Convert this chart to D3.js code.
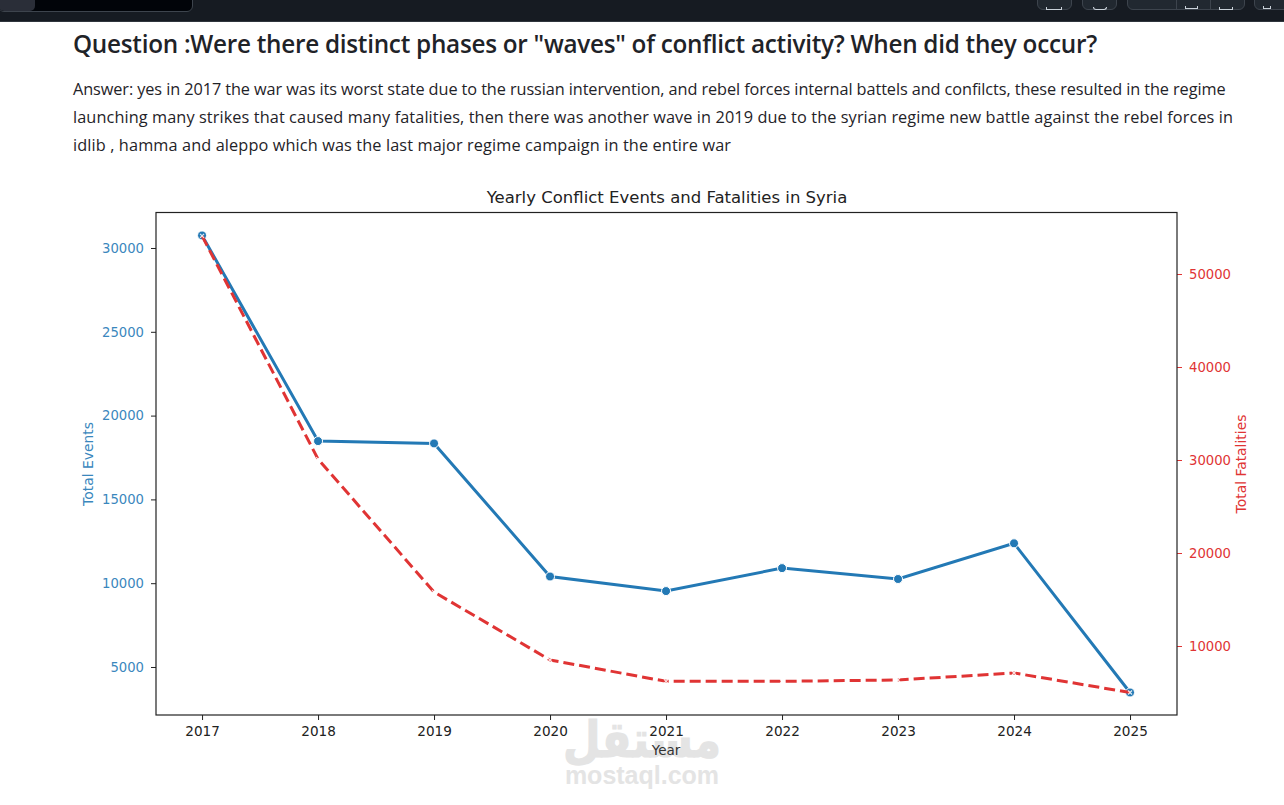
<!DOCTYPE html>
<html>
<head>
<meta charset="utf-8">
<script src="https://cdn.jsdelivr.net/npm/d3@7"></script>
<style>
html, body { margin: 0; padding: 0; background: #fff; overflow: hidden; }
#topbar { position: absolute; left: 0; top: 0; width: 1284px; height: 22px; background: #161b22; border-bottom: 1px solid #30363d; box-sizing: border-box; overflow: hidden; }
#tab { position: absolute; left: -2px; top: -6px; width: 193px; height: 16px; background: #010409; border: 1px solid #3d444d; border-radius: 6px; overflow: hidden; }
#thumb { position: absolute; left: 0; top: 0; width: 36px; height: 16px; background: #2a2e38; border-radius: 0 0 5px 0; }
.btn { position: absolute; top: -8px; height: 18px; border: 1px solid #3d444d; border-radius: 6px; box-sizing: border-box; background: #212830; }
.sep { position: absolute; top: 0; bottom: 0; width: 1px; background: #3d444d; }
.glyph { position: absolute; top: 0; height: 3px; border: 1px solid #c9d1d9; border-top: 0; box-sizing: border-box; }
h2 { position: absolute; left: 73px; top: 27px; margin: 0; font: 600 24.3px "Open Sans", "Noto Sans", sans-serif; letter-spacing: -0.27px; color: #1f2328; white-space: nowrap; }
#answer { position: absolute; left: 73px; top: 75px; margin: 0; font: 400 16.3px/28px "Open Sans", "Noto Sans", sans-serif; color: #1f2328; white-space: nowrap; }
svg { position: absolute; left: 0; top: 0; }
</style>
</head>
<body>
<div id="topbar">
  <div id="tab"><div id="thumb"></div></div>
  <div class="btn" style="left:1037px;width:35px"><div class="glyph" style="left:8px;top:14px;width:16px"></div></div>
  <div class="btn" style="left:1082px;width:35px"><div class="glyph" style="left:10px;top:14px;width:14px;border-radius:0 0 6px 6px"></div></div>
  <div class="btn" style="left:1127px;width:118px">
    <div class="sep" style="left:48px"></div>
    <div class="sep" style="left:82px"></div>
    <div class="glyph" style="left:57px;top:13px;width:13px"></div>
    <div class="glyph" style="left:91px;top:14px;width:14px"></div>
  </div>
  <div class="btn" style="left:1254px;width:40px"><div class="glyph" style="left:8px;top:13px;width:8px"></div></div>
</div>
<h2>Question :Were there distinct phases or "waves" of conflict activity? When did they occur?</h2>
<div id="answer">
  <div style="letter-spacing:-0.09px">Answer: yes in 2017 the war was its worst state due to the russian intervention, and rebel forces internal battels and confilcts, these resulted in the regime</div>
  <div style="letter-spacing:0.095px">launching many strikes that caused many fatalities, then there was another wave in 2019 due to the syrian regime new battle against the rebel forces in</div>
  <div style="letter-spacing:0.117px">idlib , hamma and aleppo which was the last major regime campaign in the entire war</div>
</div>
<div id="chart"></div>
<script>
// Yearly data
const years = [2017, 2018, 2019, 2020, 2021, 2022, 2023, 2024, 2025];
const events = [30750, 18480, 18340, 10400, 9530, 10900, 10250, 12380, 3480];
const fatalities = [54100, 30100, 15800, 8500, 6200, 6200, 6350, 7100, 5000];
const eventTicks = [5000, 10000, 15000, 20000, 25000, 30000];
const fatalityTicks = [10000, 20000, 30000, 40000, 50000];

const blue = '#2379b5';
const red = '#e03434';
const font = '"DejaVu Sans", sans-serif';

const svg = d3.select('#chart').append('svg')
    .attr('width', 1284)
    .attr('height', 805);

const plot = { left: 156, right: 1177, top: 212.5, bottom: 715 };

const x = d3.scaleLinear().domain([2016.603, 2025.405]).range([plot.left, plot.right]);
const yLeft = d3.scaleLinear().domain([2136, 32118]).range([plot.bottom, plot.top]);
const yRight = d3.scaleLinear().domain([2581, 56613]).range([plot.bottom, plot.top]);

// Watermark sits behind the axis labels
const mark = svg.append('g').attr('fill', '#e4e4e4').attr('text-anchor', 'middle');
mark.append('text')
    .attr('transform', 'translate(642,757) scale(0.865,1)')
    .attr('stroke', '#e4e4e4')
    .attr('stroke-width', 1.2)
    .style('font', 'bold 50px "DejaVu Sans", sans-serif')
    .text('مستقل');
mark.append('text')
    .attr('x', 642).attr('y', 784)
    .style('font', 'bold 25px "Liberation Sans", sans-serif')
    .text('mostaql.com');

// Axes
const xAxis = svg.append('g')
    .attr('transform', `translate(0,${plot.bottom})`)
    .call(d3.axisBottom(x).tickValues(years).tickFormat(d3.format('d')).tickSize(5).tickPadding(6));
const leftAxis = svg.append('g')
    .attr('transform', `translate(${plot.left},0)`)
    .call(d3.axisLeft(yLeft).tickValues(eventTicks).tickFormat(d3.format('d')).tickSize(5).tickPadding(7));
const rightAxis = svg.append('g')
    .attr('transform', `translate(${plot.right},0)`)
    .call(d3.axisRight(yRight).tickValues(fatalityTicks).tickFormat(d3.format('d')).tickSize(5).tickPadding(7));

[xAxis, leftAxis, rightAxis].forEach(a => a.selectAll('.domain').remove());
xAxis.selectAll('text').style('font', `13.6px ${font}`);
leftAxis.selectAll('text').style('font', `13.2px ${font}`);
rightAxis.selectAll('text').style('font', `13.2px ${font}`);
xAxis.selectAll('line').attr('stroke', '#222');
xAxis.selectAll('text').attr('fill', '#222');
leftAxis.selectAll('line').attr('stroke', '#222');
leftAxis.selectAll('text').attr('fill', '#3a87bd');
rightAxis.selectAll('line').attr('stroke', red);
rightAxis.selectAll('text').attr('fill', red);

// Frame
svg.append('rect')
    .attr('x', plot.left).attr('y', plot.top)
    .attr('width', plot.right - plot.left).attr('height', plot.bottom - plot.top)
    .attr('fill', 'none').attr('stroke', '#222').attr('stroke-width', 1.2);

// Events line
svg.append('path')
    .datum(events)
    .attr('fill', 'none')
    .attr('stroke', blue)
    .attr('stroke-width', 3)
    .attr('d', d3.line().x((d, i) => x(years[i])).y(d => yLeft(d)));

svg.selectAll('.event-dot')
    .data(events)
    .join('circle')
    .attr('class', 'event-dot')
    .attr('cx', (d, i) => x(years[i]))
    .attr('cy', d => yLeft(d))
    .attr('r', 4.5)
    .attr('fill', blue)
    .attr('stroke', '#fff')
    .attr('stroke-width', 1);

// Fatalities line
svg.append('path')
    .datum(fatalities)
    .attr('fill', 'none')
    .attr('stroke', red)
    .attr('stroke-width', 3)
    .attr('stroke-dasharray', '11,5')
    .attr('d', d3.line().x((d, i) => x(years[i])).y(d => yRight(d)));

// Small x markers, white edged, on the fatalities line
svg.selectAll('.fatal-dot')
    .data(fatalities)
    .join('path')
    .attr('class', 'fatal-dot')
    .attr('transform', (d, i) => `translate(${x(years[i])},${yRight(d)})`)
    .attr('d', 'M-2,-2L2,2M-2,2L2,-2')
    .attr('stroke', '#fff')
    .attr('stroke-width', 1.2)
    .attr('opacity', 0.85);

// Titles
svg.append('text')
    .attr('x', 667).attr('y', 203)
    .attr('text-anchor', 'middle')
    .attr('fill', '#222')
    .style('font', `16.5px ${font}`)
    .text('Yearly Conflict Events and Fatalities in Syria');
svg.append('text')
    .attr('x', 666).attr('y', 755)
    .attr('text-anchor', 'middle')
    .attr('fill', '#333')
    .style('font', `13.5px ${font}`)
    .text('Year');
svg.append('text')
    .attr('transform', 'translate(93,464) rotate(-90)')
    .attr('text-anchor', 'middle')
    .attr('fill', '#3a87bd')
    .style('font', `13.9px ${font}`)
    .text('Total Events');
svg.append('text')
    .attr('transform', 'translate(1246,464) rotate(-90)')
    .attr('text-anchor', 'middle')
    .attr('fill', red)
    .style('font', `13.9px ${font}`)
    .text('Total Fatalities');
</script>
</body>
</html>
